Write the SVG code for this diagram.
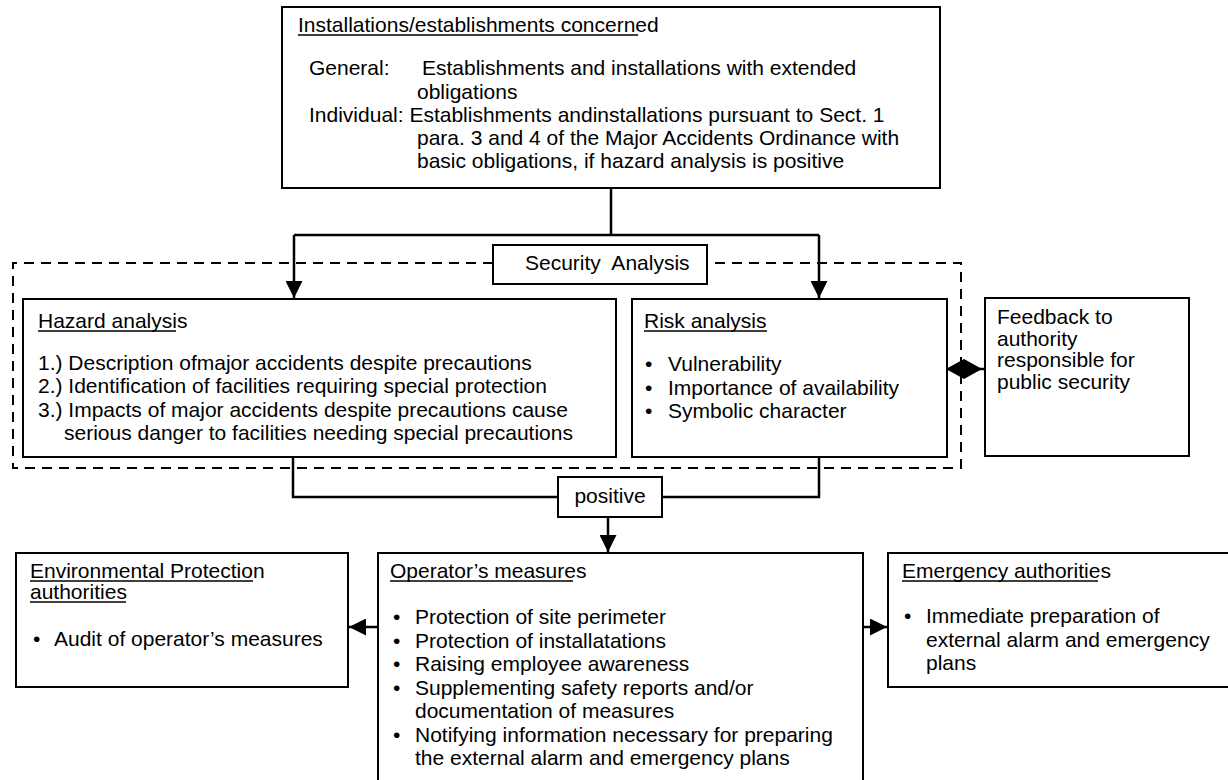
<svg xmlns="http://www.w3.org/2000/svg" width="1228" height="780" viewBox="0 0 1228 780">
<defs>
<style>
text{font-family:"Liberation Sans",Arial,sans-serif;font-size:21px;fill:#000}
.box{fill:#fff;stroke:#000;stroke-width:2}
.ul{stroke:#000;stroke-width:1.5}
.ln{fill:none;stroke:#000;stroke-width:2.5}
.dash{fill:none;stroke:#000;stroke-width:2;stroke-dasharray:10,7}
</style>
<marker id="arr" viewBox="0 0 10 10" refX="10" refY="5" markerWidth="17" markerHeight="17" markerUnits="userSpaceOnUse" orient="auto"><path d="M0,0 L10,5 L0,10 z" fill="#000"/></marker>
</defs>
<rect width="1228" height="780" fill="#fff"/>

<g id="security-frame">
<path class="dash" d="M493,263 H13 V468 H961 V263 H707"/>
</g>

<g id="connectors">
<path class="ln" d="M611,188 V235 M294,235 H819"/>
<path class="ln" d="M294,235 V298" marker-end="url(#arr)"/>
<path class="ln" d="M819,235 V298" marker-end="url(#arr)"/>
<path class="ln" d="M293,457 V497 H558 M819,457 V497 H662"/>
<path class="ln" d="M608,517 V552" marker-end="url(#arr)"/>
<path class="ln" d="M378,627 H349" marker-end="url(#arr)"/>
<path class="ln" d="M863,627 H887" marker-end="url(#arr)"/>
<path class="ln" d="M947,369 H985"/>
<polygon points="946,369 964,359 982,369 964,379" fill="#000"/>
</g>

<g id="installations">
<rect class="box" x="282" y="7" width="658" height="181"/>
<text x="298" y="32">Installations/establishments concerned</text>
<line class="ul" x1="298" y1="35" x2="638" y2="35"/>
<text x="309" y="75">General:</text>
<text x="422" y="75">Establishments and installations with extended</text>
<text x="417" y="99">obligations</text>
<text x="309" y="122">Individual: Establishments andinstallations pursuant to Sect. 1</text>
<text x="417" y="145">para. 3 and 4 of the Major Accidents Ordinance with</text>
<text x="417" y="168">basic obligations, if hazard analysis is positive</text>
</g>

<g id="security-analysis">
<rect class="box" x="493" y="245" width="214" height="39"/>
<text x="525" y="270" xml:space="preserve">Security  Analysis</text>
</g>

<g id="hazard">
<rect class="box" x="23" y="299" width="593" height="158"/>
<text x="38" y="328">Hazard analysis</text>
<line class="ul" x1="38" y1="331" x2="176" y2="331"/>
<text x="38" y="370">1.) Description ofmajor accidents despite precautions</text>
<text x="38" y="393">2.) Identification of facilities requiring special protection</text>
<text x="38" y="417">3.) Impacts of major accidents despite precautions cause</text>
<text x="64" y="440">serious danger to facilities needing special precautions</text>
</g>

<g id="risk">
<rect class="box" x="632" y="299" width="315" height="158"/>
<text x="644" y="328">Risk analysis</text>
<line class="ul" x1="644" y1="331" x2="767" y2="331"/>
<text x="645" y="371">•</text><text x="668" y="371">Vulnerability</text>
<text x="645" y="395">•</text><text x="668" y="395">Importance of availability</text>
<text x="645" y="418">•</text><text x="668" y="418">Symbolic character</text>
</g>

<g id="feedback">
<rect class="box" x="985" y="298" width="204" height="158"/>
<text x="997" y="324">Feedback to</text>
<text x="997" y="346">authority</text>
<text x="997" y="367">responsible for</text>
<text x="997" y="389">public security</text>
</g>

<g id="positive">
<rect class="box" x="558" y="477" width="104" height="40"/>
<text x="610" y="503" text-anchor="middle">positive</text>
</g>

<g id="environmental">
<rect class="box" x="16" y="553" width="332" height="134"/>
<text x="30" y="578">Environmental Protection</text>
<line class="ul" x1="30" y1="581" x2="253" y2="581"/>
<text x="30" y="599">authorities</text>
<line class="ul" x1="30" y1="602" x2="126" y2="602"/>
<text x="33" y="646">•</text><text x="54" y="646">Audit of operator’s measures</text>
</g>

<g id="operator">
<rect class="box" x="378" y="553" width="485" height="250"/>
<text x="390" y="578">Operator’s measures</text>
<line class="ul" x1="390" y1="581" x2="573" y2="581"/>
<text x="393" y="624">•</text><text x="415" y="624">Protection of site perimeter</text>
<text x="393" y="648">•</text><text x="415" y="648">Protection of installatations</text>
<text x="393" y="671">•</text><text x="415" y="671">Raising employee awareness</text>
<text x="393" y="695">•</text><text x="415" y="695">Supplementing safety reports and/or</text>
<text x="415" y="718">documentation of measures</text>
<text x="393" y="742">•</text><text x="415" y="742">Notifying information necessary for preparing</text>
<text x="415" y="765">the external alarm and emergency plans</text>
</g>

<g id="emergency">
<rect class="box" x="888" y="553" width="360" height="134"/>
<text x="902" y="578">Emergency authorities</text>
<line class="ul" x1="902" y1="581" x2="1098" y2="581"/>
<text x="904" y="623">•</text><text x="926" y="623">Immediate preparation of</text>
<text x="926" y="647">external alarm and emergency</text>
<text x="926" y="670">plans</text>
</g>
</svg>
